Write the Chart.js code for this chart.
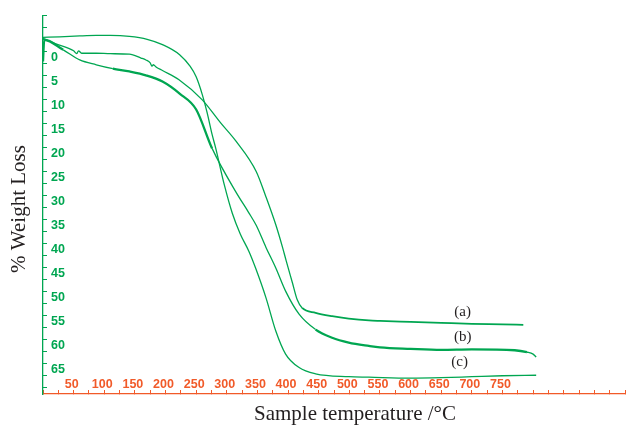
<!DOCTYPE html>
<html><head><meta charset="utf-8">
<script src="https://cdn.jsdelivr.net/npm/chart.js@4"></script>
<style>html,body{margin:0;padding:0;background:#fff}#wrap{width:627px;height:426px;position:relative}</style>
</head><body><div id="wrap"><canvas id="c"></canvas></div>
<script>
// Sample temperature (°C) and % weight loss for each curve
const tempA = [0, 20, 50, 55, 58, 63, 87, 110, 141, 160, 168, 175, 178, 180, 185, 195, 222, 260, 290, 315, 348, 364, 380, 391, 397, 407, 415, 423, 445, 472, 499, 532, 550, 600, 650, 700, 750, 784];
const lossA = [-4.0, -2.9, -1.4, -0.8, -1.4, -0.9, -0.9, -0.8, -0.7, 0.1, 0.5, 1.1, 1.8, 1.5, 2.0, 2.7, 4.6, 8.8, 13.6, 17.4, 23.7, 29.0, 34.8, 39.5, 42.3, 46.8, 50.4, 52.1, 53.1, 53.8, 54.3, 54.7, 54.8, 55.0, 55.2, 55.4, 55.5, 55.6];

const tempB = [0, 2, 33, 60, 87, 114, 141, 168, 195, 223, 250, 276, 315, 336, 348, 364, 380, 396, 418, 445, 472, 499, 532, 550, 600, 650, 700, 770, 790, 800, 805];
const lossB = [0.8, -3.7, -1.6, 0.5, 1.5, 2.3, 2.9, 3.7, 5.0, 7.5, 10.8, 18.9, 28.0, 32.3, 34.9, 39.5, 43.8, 48.6, 53.4, 56.6, 58.3, 59.3, 60.0, 60.3, 60.6, 60.8, 60.7, 60.9, 61.3, 61.7, 62.3];

const tempC = [0, 27, 60, 87, 110, 141, 170, 195, 223, 240, 250, 260, 268, 276, 282, 296, 309, 322, 336, 347, 364, 380, 396, 418, 445, 499, 532, 600, 650, 700, 750, 805];
const lossC = [-4.2, -4.3, -4.5, -4.6, -4.6, -4.4, -3.8, -2.7, -0.6, 1.8, 4.0, 7.7, 11.5, 16.0, 18.9, 26.5, 32.4, 36.7, 40.3, 43.8, 50.0, 56.9, 61.7, 64.5, 65.8, 66.4, 66.5, 66.7, 66.6, 66.4, 66.2, 66.1];

const xTickLabels = [50, 100, 150, 200, 250, 300, 350, 400, 450, 500, 550, 600, 650, 700, 750];
const yTickLabels = [0, 5, 10, 15, 20, 25, 30, 35, 40, 45, 50, 55, 60, 65];

const curveNames = ['(a)', '(b)', '(c)'];
const curveNameTemp = [685, 685, 680];
const curveNameLoss = [52.9, 58.2, 63.3];

const xTitle = 'Sample temperature /°C';
const yTitle = '% Weight Loss';

const GREEN = '#00a651';
const ORANGE = '#f15a29';
const INK = '#231f20';

const toPts = (t, l) => t.map((v, i) => ({x: v, y: l[i]}));

const textPlugin = {
  id: 'textPlugin',
  afterDraw(chart) {
    const {ctx, scales: {x, y}} = chart;
    ctx.save();
    ctx.fillStyle = INK;
    ctx.textAlign = 'center';
    ctx.textBaseline = 'middle';
    ctx.font = '15px "Liberation Serif"';
    curveNames.forEach((n, i) => ctx.fillText(n, x.getPixelForValue(curveNameTemp[i]), y.getPixelForValue(curveNameLoss[i])));
    ctx.font = '21px "Liberation Serif"';
    ctx.textBaseline = 'alphabetic';
    ctx.fillText(xTitle, 355, 420);
    ctx.translate(25, 209);
    ctx.rotate(-Math.PI / 2);
    ctx.fillText(yTitle, 0, 0);
    ctx.restore();
  }
};

const inRange = (v, ranges) => ranges.some(r => v >= r[0] && v < r[1]);

new Chart(document.getElementById('c'), {
  type: 'line',
  data: {
    datasets: [
      {label: '(a)', data: toPts(tempA, lossA), borderColor: GREEN,
       segment: {borderWidth: c => inRange(c.p0.parsed.x, [[420, 784]]) ? 1.8 : 1.3}},
      {label: '(b)', data: toPts(tempB, lossB), borderColor: GREEN,
       segment: {borderWidth: c => inRange(c.p0.parsed.x, [[0, 3], [100, 276], [440, 772]]) ? 2.3 : 1.3}},
      {label: '(c)', data: toPts(tempC, lossC), borderColor: GREEN}
    ]
  },
  options: {
    responsive: true, maintainAspectRatio: false, animation: false,
    layout: {padding: {left: 31, top: 14, right: 0, bottom: 32}},
    plugins: {legend: {display: false}, tooltip: {enabled: false}},
    elements: {point: {radius: 0}, line: {borderWidth: 1.3, cubicInterpolationMode: 'monotone', fill: false}},
    scales: {
      x: {
        type: 'linear', min: 0, max: 950, position: 'bottom',
        ticks: {stepSize: 25, autoSkip: false, maxRotation: 0, minRotation: 0, mirror: true, padding: 2, labelOffset: -2,
          color: ORANGE, font: {family: 'Liberation Sans', weight: 'bold', size: 12.5},
          callback: v => xTickLabels.includes(v) ? String(v) : ''},
        grid: {drawOnChartArea: false, tickLength: -4, tickColor: ORANGE, tickWidth: 1},
        border: {color: ORANGE, width: 1.3}
      },
      y: {
        type: 'linear', reverse: true, min: -8.75, max: 70, position: 'left',
        ticks: {stepSize: 1.25, autoSkip: false, mirror: true, padding: 8,
          color: GREEN, font: {family: 'Liberation Sans', weight: 'bold', size: 12.5},
          callback: v => yTickLabels.includes(v) ? String(v) : ''},
        grid: {drawOnChartArea: false, tickLength: -4, tickWidth: 1,
          tickColor: c => {const r = ((c.tick.value - 1.25) % 2.5 + 2.5) % 2.5; return Math.abs(r) < 1e-6 || Math.abs(r - 2.5) < 1e-6 ? GREEN : 'rgba(0,0,0,0)';}},
        border: {color: GREEN, width: 1.3}
      }
    }
  },
  plugins: [textPlugin]
});
</script></body></html>
